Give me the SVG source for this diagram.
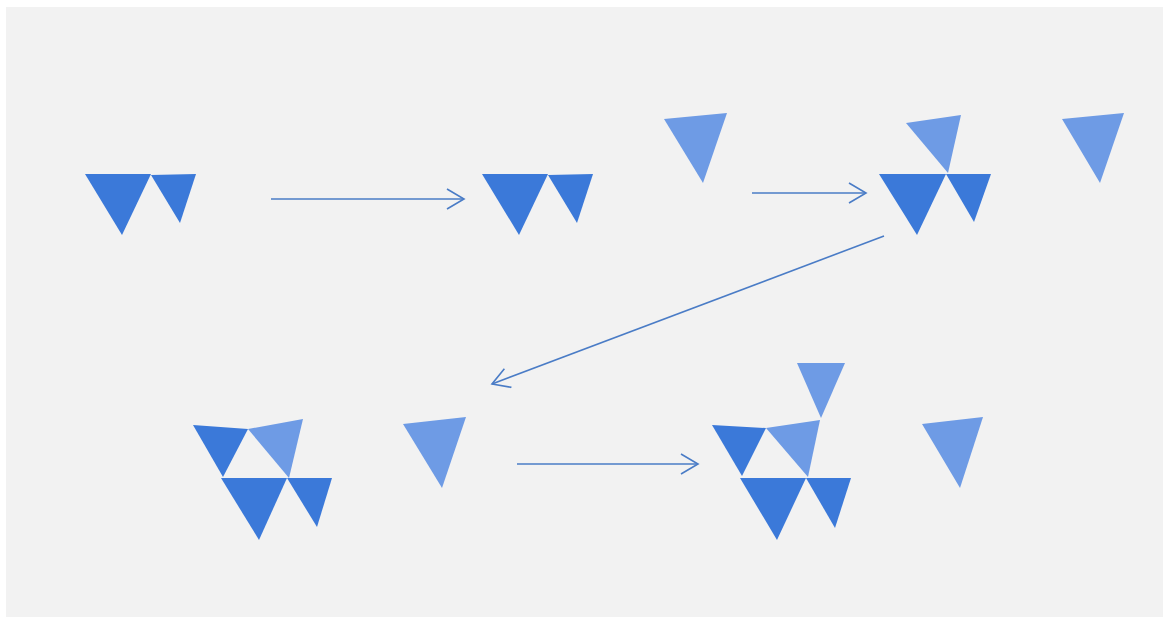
<svg xmlns="http://www.w3.org/2000/svg" width="1169" height="617" viewBox="0 0 1169 617">
<style>
.d{fill:#3b79d9}
.l{fill:#6e9be5}
.c{stroke:#4a7cc6;stroke-width:1.6;fill:none;marker-end:url(#ah)}
</style>
<defs>
<marker id="ah" markerUnits="userSpaceOnUse" viewBox="0 0 20 22" markerWidth="20" markerHeight="22" refX="18" refY="11" orient="auto">
<path d="M1,1 L18,11 L1,21" fill="none" stroke="#4a7cc6" stroke-width="1.6"/>
</marker>
</defs>
<rect width="1169" height="617" fill="#ffffff"/>
<rect x="6" y="7" width="1157" height="610" fill="#f2f2f2"/>
<g id="connectors">
<line class="c" x1="271" y1="199" x2="464" y2="199"/>
<line class="c" x1="752" y1="193" x2="866" y2="193"/>
<line class="c" x1="884" y1="236" x2="492" y2="384"/>
<line class="c" x1="517" y1="464" x2="698" y2="464"/>
</g>
<g id="pair1">
<polygon class="d" points="85,174 151,174 122,235"/>
<polygon class="d" points="151,175 196,174 180,223"/>
</g>
<g id="pair2">
<polygon class="d" points="482,174 548,174 519,235"/>
<polygon class="d" points="548,175 593,174 577,223"/>
</g>
<g id="single1">
<polygon class="l" points="664,119 727,113 703,183"/>
</g>
<g id="group3">
<polygon class="l" points="906,123 961,115 948,173"/>
<polygon class="d" points="879,174 946,174 917,235"/>
<polygon class="d" points="946,174 991,174 974,222"/>
</g>
<g id="single2">
<polygon class="l" points="1062,119 1124,113 1100,183"/>
</g>
<g id="group4">
<polygon class="d" points="193,425 248,429 223,477"/>
<polygon class="l" points="248,429 303,419 289,478"/>
<polygon class="d" points="221,478 287,478 259,540"/>
<polygon class="d" points="287,478 332,478 317,527"/>
</g>
<g id="single3">
<polygon class="l" points="403,424 466,417 442,488"/>
</g>
<g id="group5">
<polygon class="l" points="797,363 845,363 821,418"/>
<polygon class="d" points="712,425 766,428 742,476"/>
<polygon class="l" points="766,428 820,420 808,477"/>
<polygon class="d" points="740,478 806,478 777,540"/>
<polygon class="d" points="806,478 851,478 835,528"/>
</g>
<g id="single4">
<polygon class="l" points="922,424 983,417 960,488"/>
</g>
</svg>
